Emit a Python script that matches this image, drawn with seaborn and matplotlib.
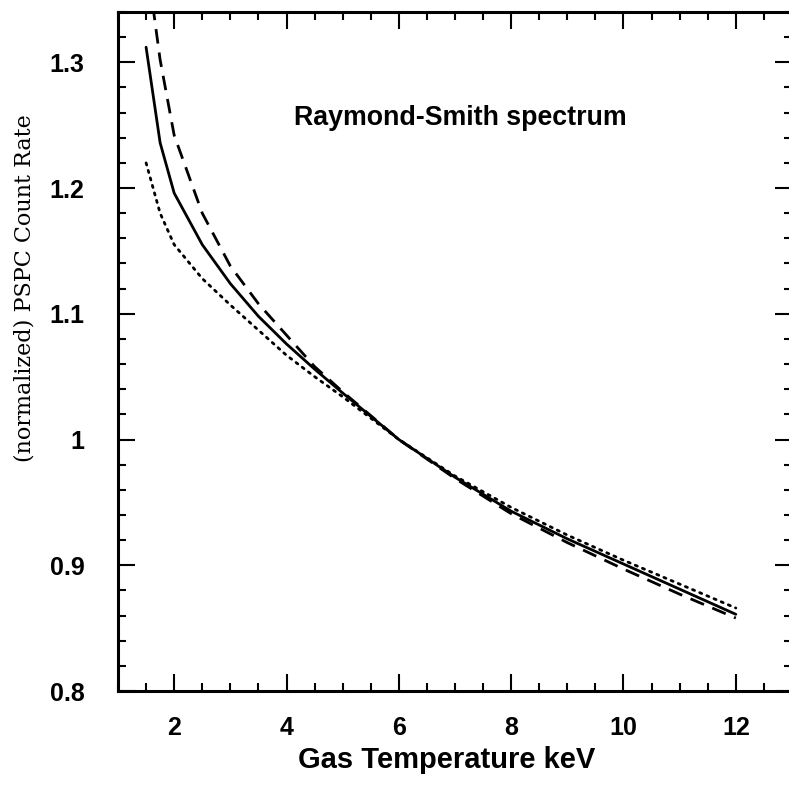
import matplotlib
matplotlib.use("Agg")
import matplotlib.pyplot as plt
from matplotlib.ticker import MultipleLocator, FixedLocator
import seaborn as sns
import pandas as pd

# Normalized PSPC count rate vs. gas temperature (normalized at 6 keV)
temp_solid = [1.5, 1.75, 2.0, 2.5, 3.0, 3.5, 4.0, 4.5, 5.0, 6.0, 7.0, 8.0, 9.0, 10.0, 11.0, 12.0]
rate_solid = [1.312, 1.236, 1.196, 1.155, 1.124, 1.098, 1.076, 1.056, 1.037, 1.000,
              0.970, 0.943, 0.921, 0.901, 0.881, 0.861]

temp_dashed = [1.62, 1.75, 2.0, 2.5, 3.0, 3.5, 4.0, 4.5, 5.0, 6.0, 7.0, 8.0, 9.0, 10.0, 11.0, 12.0]
rate_dashed = [1.345, 1.302, 1.242, 1.180, 1.138, 1.108, 1.083, 1.058, 1.038, 1.000,
               0.969, 0.941, 0.918, 0.897, 0.877, 0.858]

temp_dotted = [1.5, 1.75, 2.0, 2.5, 3.0, 3.5, 4.0, 4.5, 5.0, 6.0, 7.0, 8.0, 9.0, 10.0, 11.0, 12.0]
rate_dotted = [1.220, 1.180, 1.155, 1.128, 1.107, 1.087, 1.067, 1.050, 1.034, 1.000,
               0.971, 0.946, 0.924, 0.904, 0.885, 0.866]

x_ticks = [2, 4, 6, 8, 10, 12]
y_ticks = [0.8, 0.9, 1.0, 1.1, 1.2, 1.3]
y_tick_labels = ["0.8", "0.9", "1", "1.1", "1.2", "1.3"]

sns.set_style("ticks")
plt.rcParams["lines.scale_dashes"] = False
plt.rcParams["font.family"] = ["Liberation Sans", "DejaVu Sans"]
plt.rcParams["text.color"] = "black"
plt.rcParams["axes.labelcolor"] = "black"
plt.rcParams["xtick.color"] = "black"
plt.rcParams["ytick.color"] = "black"

fig = plt.figure(figsize=(7.89, 7.86), dpi=100)
L, R, B, T = 118 / 789, 792 / 789, 1 - 691 / 786, 1 - 12 / 786
ax = fig.add_axes([L, B, R - L, T - B])

df_solid = pd.DataFrame({"T": temp_solid, "rate": rate_solid})
df_dashed = pd.DataFrame({"T": temp_dashed, "rate": rate_dashed})
df_dotted = pd.DataFrame({"T": temp_dotted, "rate": rate_dotted})

sns.lineplot(data=df_solid, x="T", y="rate", ax=ax, color="black", lw=2.0, sort=False)
sns.lineplot(data=df_dashed, x="T", y="rate", ax=ax, color="black", lw=2.0, sort=False)
sns.lineplot(data=df_dotted, x="T", y="rate", ax=ax, color="black", lw=2.0, sort=False)
lines = ax.get_lines()
lines[1].set_dashes((10.5, 6.5))
lines[2].set_dashes((1.6, 4.0))
lines[2].set_dash_capstyle("round")

ax.set_xlim(1, 13)
ax.set_ylim(0.8, 1.34)

ax.xaxis.set_major_locator(FixedLocator(x_ticks))
ax.xaxis.set_minor_locator(MultipleLocator(0.5))
ax.yaxis.set_major_locator(FixedLocator(y_ticks))
ax.yaxis.set_minor_locator(MultipleLocator(0.02))
ax.set_yticklabels(y_tick_labels)

ax.tick_params(which="both", direction="in", top=True, right=True, colors="black")
ax.tick_params(which="major", length=12, width=1.5)
ax.tick_params(which="minor", length=5.5, width=1.5)
ax.tick_params(axis="x", which="major", pad=18, labelsize=18)
ax.tick_params(axis="y", which="major", pad=24, labelsize=18)
for lbl in ax.get_xticklabels() + ax.get_yticklabels():
    lbl.set_fontweight("bold")

for sp in ax.spines.values():
    sp.set_linewidth(2.2)
    sp.set_color("black")

ax.set_xlabel("Gas Temperature keV", fontsize=21, fontweight="bold", labelpad=4)
ax.xaxis.label.set_x((447 - 118) / (792 - 118))
ax.set_ylabel("")

fig.text(25 / 789, 1 - 288 / 786, "(normalized) PSPC Count Rate", rotation=90,
         ha="center", va="center", fontsize=16, family=["DejaVu Serif"])

ax.text(7.1, 1.256, "Raymond-Smith spectrum", ha="center", va="center",
        fontsize=19.3, fontweight="bold")

fig.savefig("out.png", dpi=100)
